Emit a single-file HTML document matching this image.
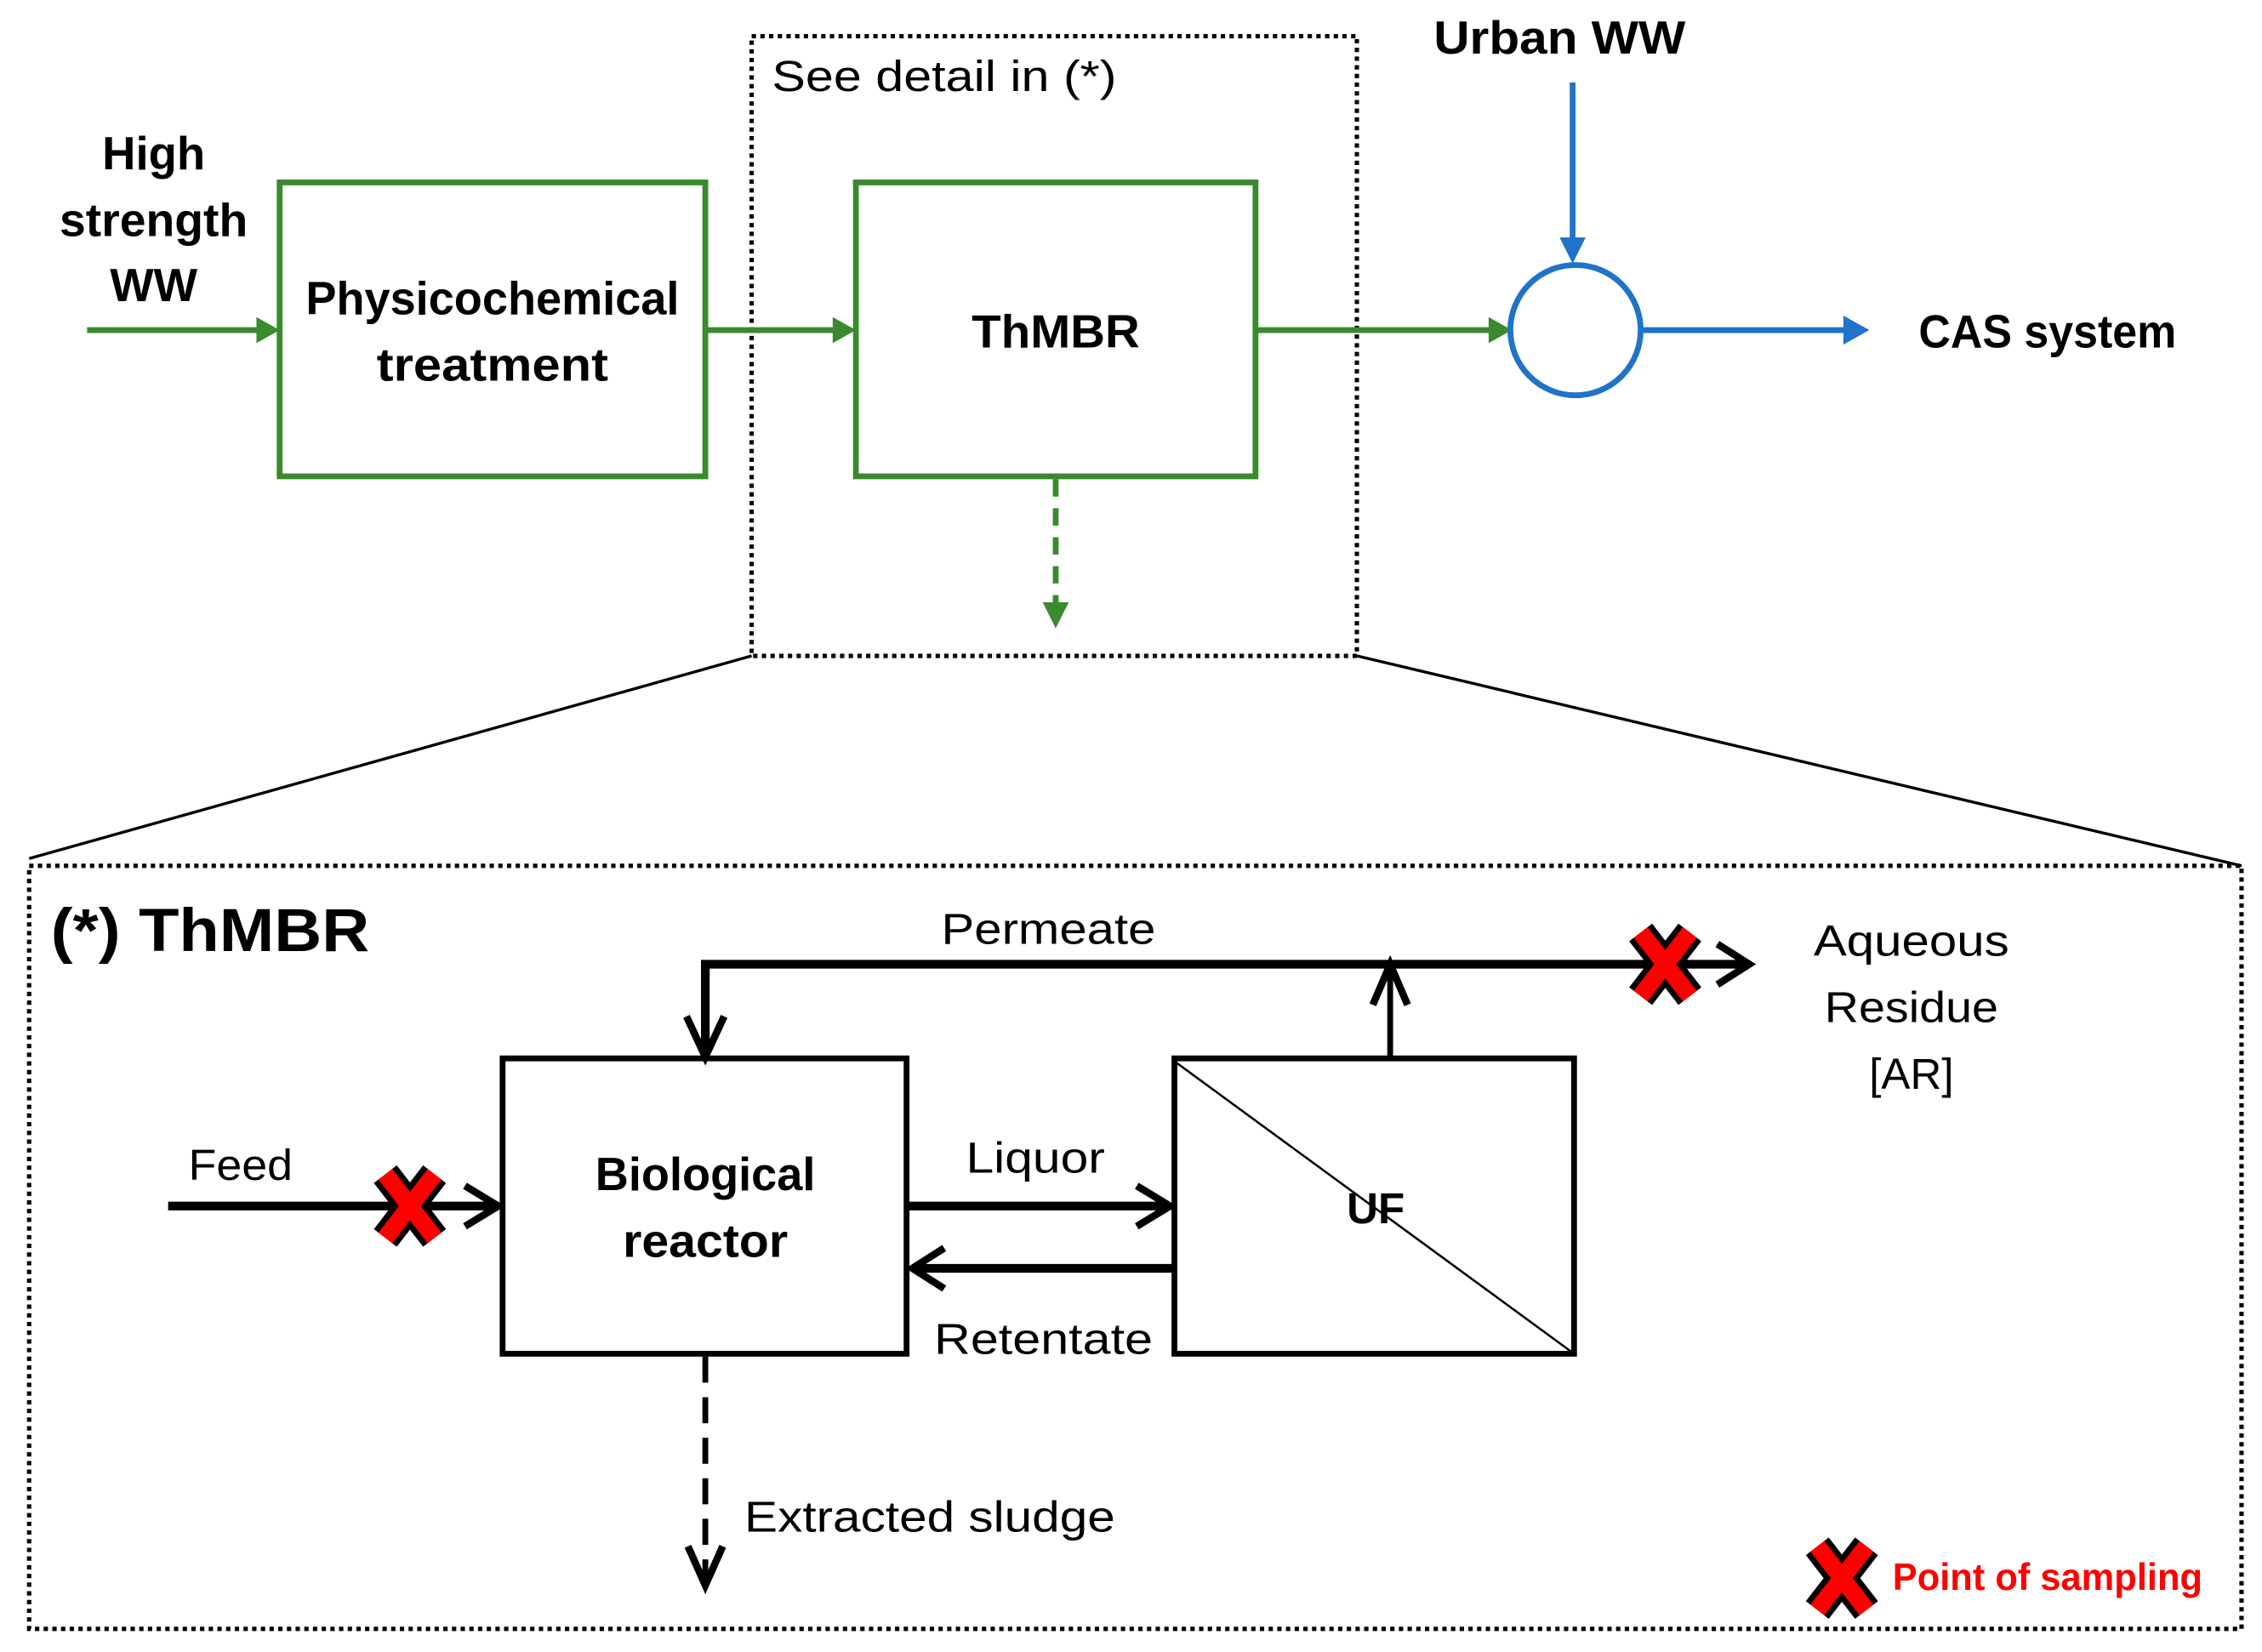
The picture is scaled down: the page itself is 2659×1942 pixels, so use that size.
<!DOCTYPE html>
<html><head><meta charset="utf-8"><style>
html,body{margin:0;padding:0;background:#fff;}
svg{display:block;}
text{font-family:"Liberation Sans",sans-serif;}
</style></head><body>
<svg width="2659" height="1942" viewBox="0 0 1562 1141" xmlns="http://www.w3.org/2000/svg">
<defs>
<g id="rx">
<line x1="-17" y1="-22" x2="17" y2="22" stroke="#000" stroke-width="20"/>
<line x1="17" y1="-22" x2="-17" y2="22" stroke="#000" stroke-width="20"/>
<line x1="-17" y1="-22" x2="17" y2="22" stroke="#f00" stroke-width="12"/>
<line x1="17" y1="-22" x2="-17" y2="22" stroke="#f00" stroke-width="12"/>
</g>
</defs>
<rect width="1562" height="1141" fill="#fff"/>
<rect x="519" y="25" width="418" height="428" fill="none" stroke="#000" stroke-width="3" stroke-dasharray="3,3"/>
<text x="533" y="63" font-size="30" textLength="238" lengthAdjust="spacingAndGlyphs">See detail in (*)</text>
<text x="990" y="37" font-size="32" font-weight="bold" textLength="174" lengthAdjust="spacingAndGlyphs">Urban WW</text>
<text font-size="32" font-weight="bold" text-anchor="middle">
<tspan x="106" y="117">High</tspan><tspan x="106" y="163" textLength="130" lengthAdjust="spacingAndGlyphs">strength</tspan><tspan x="106" y="208">WW</tspan></text>
<g stroke="#3a8a2e" stroke-width="4" fill="none">
<line x1="60" y1="228" x2="180" y2="228"/>
<rect x="193" y="126" width="294" height="203"/>
<line x1="487" y1="228" x2="578" y2="228"/>
<rect x="591" y="126" width="276" height="203"/>
<line x1="867" y1="228" x2="1030" y2="228"/>
<line x1="729" y1="331" x2="729" y2="420" stroke-dasharray="12,8"/>
</g>
<g fill="#3a8a2e">
<polygon points="193,228 177,219 177,237"/>
<polygon points="591,228 575,219 575,237"/>
<polygon points="1044,228 1028,219 1028,237"/>
<polygon points="729,434 720,416 738,416"/>
</g>
<text x="340" y="217" font-size="32" font-weight="bold" text-anchor="middle" textLength="258" lengthAdjust="spacingAndGlyphs">Physicochemical</text>
<text x="340" y="263" font-size="32" font-weight="bold" text-anchor="middle" textLength="160" lengthAdjust="spacingAndGlyphs">treatment</text>
<text x="729" y="240" font-size="32" font-weight="bold" text-anchor="middle" textLength="116" lengthAdjust="spacingAndGlyphs">ThMBR</text>
<g stroke="#1f73c9" stroke-width="4" fill="none">
<line x1="1086" y1="57" x2="1086" y2="168"/>
<ellipse cx="1088" cy="228" rx="45" ry="45"/>
<line x1="1133" y1="228" x2="1276" y2="228"/>
</g>
<polygon points="1086,182 1077,164 1095,164" fill="#1f73c9"/>
<polygon points="1291,228 1273,218 1273,238" fill="#1f73c9"/>
<text x="1325" y="240" font-size="32" font-weight="bold" textLength="178" lengthAdjust="spacingAndGlyphs">CAS system</text>
<line x1="519" y1="453" x2="20" y2="593" stroke="#000" stroke-width="2"/>
<line x1="937" y1="453" x2="1548" y2="598" stroke="#000" stroke-width="2"/>
<rect x="20" y="598" width="1528" height="527" fill="none" stroke="#000" stroke-width="3" stroke-dasharray="3,3"/>
<text x="35" y="657" font-size="42" font-weight="bold" textLength="220" lengthAdjust="spacingAndGlyphs">(*) ThMBR</text>
<g stroke="#000" fill="none">
<rect x="347" y="731" width="279" height="204" stroke-width="4"/>
<rect x="811" y="731" width="276" height="204" stroke-width="4"/>
<line x1="811" y1="733" x2="1087" y2="935" stroke-width="1.5"/>
<path d="M487,728 V666 H1208" stroke-width="6"/>
<line x1="960" y1="731" x2="960" y2="668" stroke-width="4"/>
<line x1="116" y1="833" x2="344" y2="833" stroke-width="6"/>
<line x1="626" y1="833" x2="806" y2="833" stroke-width="6"/>
<line x1="811" y1="876" x2="630" y2="876" stroke-width="6"/>
<line x1="487" y1="937" x2="487" y2="1092" stroke-width="4" stroke-dasharray="18,10"/>
<g stroke-width="5" stroke-linecap="butt">
<polyline points="474,702 487,730 500,702"/>
<polyline points="948,694 960,666 972,694"/>
<polyline points="1186,652 1208,666 1186,680"/>
<polyline points="321,819 344,833 321,847"/>
<polyline points="785,819 808,833 785,847"/>
<polyline points="652,862 630,876 652,890"/>
<polyline points="475,1068 487,1095 499,1068"/>
</g>
</g>
<use href="#rx" x="1150" y="666"/>
<use href="#rx" x="283" y="833"/>
<use href="#rx" x="1272" y="1090"/>
<g font-size="30">
<text x="650" y="652" textLength="148" lengthAdjust="spacingAndGlyphs">Permeate</text>
<text x="130" y="815" textLength="72" lengthAdjust="spacingAndGlyphs">Feed</text>
<text x="667" y="810" textLength="96" lengthAdjust="spacingAndGlyphs">Liquor</text>
<text x="645" y="935" textLength="151" lengthAdjust="spacingAndGlyphs">Retentate</text>
<text x="514" y="1058" textLength="256" lengthAdjust="spacingAndGlyphs">Extracted sludge</text>
<text x="1320" y="660" text-anchor="middle" textLength="135" lengthAdjust="spacingAndGlyphs">Aqueous</text>
<text x="1320" y="706" text-anchor="middle" textLength="120" lengthAdjust="spacingAndGlyphs">Residue</text>
<text x="1320" y="752" text-anchor="middle">[AR]</text>
</g>
<text x="950" y="845" font-size="30" font-weight="bold" text-anchor="middle">UF</text>
<text x="487" y="822" font-size="32" font-weight="bold" text-anchor="middle" textLength="152" lengthAdjust="spacingAndGlyphs">Biological</text>
<text x="487" y="868" font-size="32" font-weight="bold" text-anchor="middle" textLength="114" lengthAdjust="spacingAndGlyphs">reactor</text>
<text x="1307" y="1098" font-size="26" font-weight="bold" fill="#f00" textLength="214" lengthAdjust="spacingAndGlyphs">Point of sampling</text>
</svg>
</body></html>
